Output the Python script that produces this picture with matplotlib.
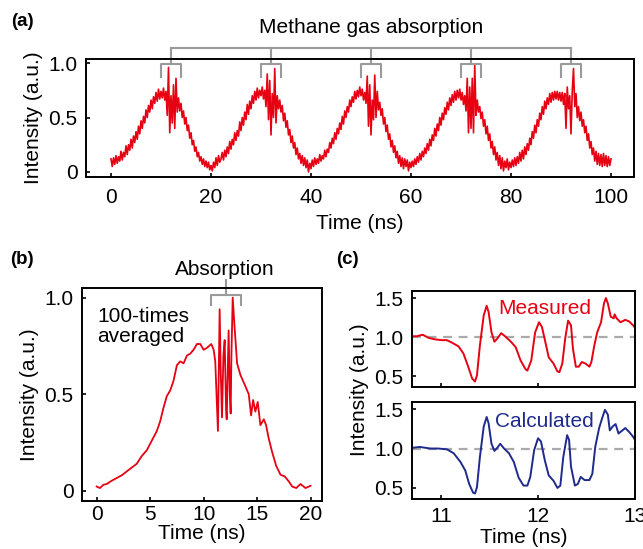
import numpy as np
import matplotlib
matplotlib.use("Agg")
import matplotlib.pyplot as plt

plt.rcParams['font.family'] = ['Liberation Sans', 'DejaVu Sans']

# ---------------- data ----------------
# (a) single-shot trace, 0.25 ns steps from 0 to 100 ns
time_a = np.arange(401) * 0.25
intensity_a = [
    # 0 - 20 ns
    0.12, 0.05, 0.13, 0.07, 0.15, 0.08, 0.14, 0.10, 0.19, 0.11, 0.18, 0.14, 0.24, 0.16, 0.25, 0.20,
    0.30, 0.22, 0.33, 0.27, 0.37, 0.30, 0.42, 0.35, 0.47, 0.40, 0.51, 0.45, 0.57, 0.50, 0.61, 0.55,
    0.66, 0.58, 0.69, 0.63, 0.73, 0.65, 0.76, 0.67, 0.74, 0.68, 0.77, 0.66, 0.74, 0.52, 0.96, 0.36,
    0.70, 0.45, 0.80, 0.40, 0.86, 0.55, 0.68, 0.56, 0.63, 0.50, 0.56, 0.44, 0.50, 0.38, 0.43, 0.31,
    0.36, 0.25, 0.29, 0.19, 0.23, 0.14, 0.18, 0.10, 0.14, 0.07, 0.12, 0.05, 0.10, 0.04, 0.09, 0.02,
    # 20 - 40 ns
    0.06, 0.01, 0.09, 0.04, 0.13, 0.06, 0.15, 0.09, 0.12, 0.18, 0.11, 0.20, 0.14, 0.23, 0.17, 0.28,
    0.21, 0.30, 0.25, 0.36, 0.29, 0.38, 0.33, 0.46, 0.38, 0.50, 0.43, 0.55, 0.48, 0.62, 0.53, 0.65,
    0.58, 0.70, 0.63, 0.74, 0.66, 0.77, 0.68, 0.75, 0.70, 0.78, 0.67, 0.75, 0.60, 0.90, 0.48, 0.84,
    0.34, 0.72, 0.50, 0.95, 0.45, 0.70, 0.58, 0.66, 0.55, 0.61, 0.47, 0.54, 0.41, 0.47, 0.34, 0.39,
    0.27, 0.33, 0.22, 0.27, 0.16, 0.22, 0.12, 0.17, 0.08, 0.15, 0.06, 0.13, 0.04, 0.11, 0.00, 0.08,
    # 40 - 60 ns
    0.03, 0.11, 0.05, 0.13, 0.07, 0.12, 0.08, 0.16, 0.10, 0.15, 0.12, 0.20, 0.14, 0.21, 0.18, 0.27,
    0.22, 0.31, 0.26, 0.36, 0.30, 0.40, 0.35, 0.45, 0.39, 0.51, 0.44, 0.56, 0.50, 0.60, 0.55, 0.66,
    0.60, 0.69, 0.64, 0.74, 0.67, 0.75, 0.69, 0.78, 0.70, 0.76, 0.66, 0.73, 0.63, 0.88, 0.42, 0.80,
    0.34, 0.66, 0.48, 0.89, 0.50, 0.74, 0.57, 0.64, 0.52, 0.58, 0.44, 0.50, 0.37, 0.43, 0.30, 0.35,
    0.23, 0.29, 0.18, 0.24, 0.13, 0.19, 0.08, 0.15, 0.05, 0.13, 0.03, 0.12, 0.05, 0.11, 0.01, 0.09,
    # 60 - 80 ns
    0.04, 0.10, 0.05, 0.12, 0.07, 0.14, 0.09, 0.17, 0.11, 0.19, 0.14, 0.22, 0.17, 0.26, 0.20, 0.30,
    0.24, 0.34, 0.29, 0.40, 0.33, 0.44, 0.38, 0.50, 0.43, 0.54, 0.48, 0.59, 0.53, 0.64, 0.57, 0.68,
    0.61, 0.71, 0.64, 0.74, 0.66, 0.75, 0.68, 0.76, 0.66, 0.73, 0.62, 0.70, 0.56, 0.86, 0.36, 0.78,
    0.40, 0.86, 0.36, 0.98, 0.52, 0.66, 0.55, 0.60, 0.49, 0.55, 0.42, 0.48, 0.35, 0.42, 0.29, 0.35,
    0.22, 0.28, 0.16, 0.23, 0.11, 0.18, 0.06, 0.15, 0.03, 0.13, 0.01, 0.10, 0.04, 0.12, 0.02, 0.09,
    # 80 - 100 ns
    0.04, 0.11, 0.05, 0.13, 0.06, 0.14, 0.08, 0.18, 0.10, 0.20, 0.12, 0.23, 0.16, 0.26, 0.20, 0.31,
    0.25, 0.37, 0.31, 0.43, 0.36, 0.48, 0.42, 0.54, 0.48, 0.60, 0.53, 0.65, 0.58, 0.68, 0.62, 0.72,
    0.64, 0.73, 0.66, 0.74, 0.67, 0.74, 0.66, 0.73, 0.65, 0.73, 0.62, 0.72, 0.40, 0.78, 0.58, 0.70,
    0.35, 0.74, 0.95, 0.60, 0.72, 0.50, 0.60, 0.47, 0.55, 0.42, 0.48, 0.36, 0.42, 0.29, 0.35, 0.22,
    0.28, 0.16, 0.22, 0.10, 0.19, 0.07, 0.17, 0.06, 0.16, 0.05, 0.17, 0.06, 0.15, 0.05, 0.14, 0.06,
    0.12,
]
absorption_centers_a = [12, 32, 52, 72, 92]

# (b) 100-times averaged single period
time_b = [0.0, 0.31, 0.63, 0.94, 1.41, 1.88, 2.34, 2.81, 3.28, 3.75, 4.22, 4.69, 5.16, 5.63,
          5.94, 6.25, 6.56, 6.88, 7.19, 7.5, 7.81, 8.13, 8.44, 8.75, 9.06, 9.38, 9.69, 10.0,
          10.31, 10.72, 10.94, 11.09, 11.34, 11.5, 11.6, 11.72, 11.85, 11.97, 12.1, 12.16,
          12.34, 12.45, 12.53, 12.6, 12.72, 12.88, 13.13, 13.44, 13.84, 14.22, 14.44, 14.63,
          14.84, 15.06, 15.31, 15.63, 15.84, 16.09, 16.41, 16.78, 17.19, 17.59, 17.97, 18.28,
          18.66, 19.06, 19.53, 20.0]
intensity_b = [0.022, 0.014, 0.031, 0.035, 0.052, 0.066, 0.080, 0.10, 0.12, 0.14, 0.18, 0.21,
               0.26, 0.31, 0.36, 0.43, 0.49, 0.52, 0.57, 0.65, 0.67, 0.66, 0.70, 0.71, 0.73,
               0.76, 0.76, 0.73, 0.74, 0.76, 0.73, 0.67, 0.31, 0.94, 0.62, 0.38, 0.70, 0.78,
               0.42, 0.37, 0.83, 0.50, 0.40, 0.70, 1.0, 0.86, 0.66, 0.60, 0.55, 0.50, 0.39,
               0.47, 0.41, 0.46, 0.34, 0.37, 0.34, 0.27, 0.20, 0.13, 0.083, 0.074, 0.048,
               0.022, 0.014, 0.035, 0.014, 0.026]

# (c) zoom on absorption: measured and calculated
time_meas = [10.70, 10.75, 10.81, 10.87, 10.94, 11.01, 11.06, 11.11, 11.18, 11.23, 11.28,
             11.32, 11.35, 11.37, 11.40, 11.44, 11.47, 11.49, 11.52, 11.55, 11.58, 11.62,
             11.66, 11.72, 11.77, 11.82, 11.87, 11.89, 11.93, 11.97, 12.01, 12.04, 12.08,
             12.11, 12.16, 12.20, 12.22, 12.25, 12.28, 12.31, 12.34, 12.36, 12.39, 12.42,
             12.45, 12.49, 12.53, 12.55, 12.58, 12.61, 12.65, 12.68, 12.70, 12.72, 12.75,
             12.78, 12.79, 12.81, 12.85, 12.90, 12.94, 12.98, 13.02]
intensity_meas = [1.01, 1.01, 1.03, 0.99, 0.97, 0.96, 0.96, 0.93, 0.88, 0.79, 0.62,
                  0.47, 0.43, 0.51, 0.89, 1.28, 1.40, 1.32, 1.06, 0.94, 0.98, 1.05,
                  1.01, 0.94, 0.87, 0.70, 0.59, 0.57, 0.70, 1.06, 1.19, 1.13, 0.91,
                  0.74, 0.66, 0.56, 0.55, 0.66, 0.98, 1.21, 1.15, 0.85, 0.62, 0.62,
                  0.68, 0.66, 0.62, 0.68, 0.89, 1.06, 1.19, 1.43, 1.50, 1.43, 1.26,
                  1.24, 1.29, 1.24, 1.19, 1.22, 1.20, 1.15, 1.09]

time_calc = [10.71, 10.78, 10.89, 10.97, 11.06, 11.13, 11.20, 11.25, 11.29, 11.33, 11.35,
             11.37, 11.40, 11.44, 11.47, 11.49, 11.52, 11.55, 11.58, 11.61, 11.65, 11.70,
             11.75, 11.80, 11.85, 11.89, 11.92, 11.96, 12.00, 12.03, 12.07, 12.11, 12.16,
             12.20, 12.23, 12.26, 12.30, 12.32, 12.34, 12.38, 12.41, 12.44, 12.48, 12.53,
             12.56, 12.59, 12.63, 12.66, 12.69, 12.72, 12.74, 12.77, 12.80, 12.83, 12.85,
             12.90, 12.94, 12.98, 13.01]
intensity_calc = [1.01, 1.02, 1.00, 1.00, 0.99, 0.94, 0.83, 0.72, 0.55, 0.44, 0.43,
                  0.51, 0.89, 1.28, 1.40, 1.32, 1.06, 0.97, 1.01, 1.06, 1.00, 0.94,
                  0.83, 0.63, 0.53, 0.53, 0.64, 0.98, 1.13, 1.09, 0.85, 0.66, 0.59,
                  0.50, 0.53, 0.89, 1.17, 1.11, 0.77, 0.53, 0.55, 0.64, 0.60, 0.60,
                  0.68, 1.02, 1.26, 1.38, 1.49, 1.43, 1.23, 1.28, 1.31, 1.19, 1.21,
                  1.26, 1.21, 1.15, 1.09]

red = '#e60012'
navy = '#1f2a8c'
gray = '#9a9a9a'
fs = 15

W, H = 643, 549


def px_axes(fig, x0, y0, x1, y1):
    return fig.add_axes([x0 / W, 1 - y1 / H, (x1 - x0) / W, (y1 - y0) / H])


def style(ax, xpad=6):
    for s in ax.spines.values():
        s.set_linewidth(1.4)
    ax.tick_params(direction='in', length=3, width=1.2, labelsize=fs, pad=6)
    ax.tick_params(axis='x', pad=xpad)


fig = plt.figure(figsize=(W / 100, H / 100), dpi=100)

# ---------------- (a) ----------------
ax_a = px_axes(fig, 86, 59, 634, 177)
ax_a.plot(time_a, intensity_a, color=red, lw=1.2)
ax_a.set_xlim(-5, 104.6)
ax_a.set_ylim(-0.046, 1.037)
ax_a.set_xticks([0, 20, 40, 60, 80, 100])
ax_a.set_yticks([0, 0.5, 1.0])
ax_a.set_yticklabels(['0', '0.5', '1.0'])
ax_a.set_xlabel('Time (ns)', fontsize=fs, labelpad=5)
ax_a.set_ylabel('Intensity (a.u.)', fontsize=fs, labelpad=4)
style(ax_a, xpad=8)

ax_a.plot([absorption_centers_a[0], absorption_centers_a[-1]], [1.138, 1.138],
          color=gray, lw=1.5, clip_on=False)
for c in absorption_centers_a:
    ax_a.plot([c, c], [1.138, 0.99], color=gray, lw=1.5, clip_on=False)
    ax_a.plot([c - 2, c - 2, c + 2, c + 2], [0.87, 0.99, 0.99, 0.87],
              color=gray, lw=1.5, clip_on=False)
ax_a.text(52, 1.33, 'Methane gas absorption', ha='center', va='center',
          fontsize=fs, clip_on=False)

# ---------------- (b) ----------------
ax_b = px_axes(fig, 82, 288, 322, 501)
ax_b.plot(time_b, intensity_b, color=red, lw=1.3)
ax_b.set_xlim(-1.37, 21.07)
ax_b.set_ylim(-0.053, 1.05)
ax_b.set_xticks([0, 5, 10, 15, 20])
ax_b.set_yticks([0, 0.5, 1.0])
ax_b.set_yticklabels(['0', '0.5', '1.0'])
ax_b.set_xlabel('Time (ns)', fontsize=fs, labelpad=0)
ax_b.set_ylabel('Intensity (a.u.)', fontsize=fs, labelpad=4)
style(ax_b, xpad=3)
ax_b.plot([12.05, 12.05], [1.013, 1.09], color=gray, lw=1.5, clip_on=False)
ax_b.plot([10.7, 10.7, 13.45, 13.45], [0.96, 1.013, 1.013, 0.96],
          color=gray, lw=1.5, clip_on=False)
ax_b.text(12.0, 1.148, 'Absorption', ha='center', va='center', fontsize=fs)
ax_b.text(0.03, 0.85, '100-times\naveraged', ha='left', va='center', fontsize=fs,
          linespacing=1.05)

# ---------------- (c) ----------------
ax_c1 = px_axes(fig, 412, 291, 635, 387)
ax_c2 = px_axes(fig, 412, 402, 635, 499)
for ax, t, v, col, lab, ly in [(ax_c1, time_meas, intensity_meas, red, 'Measured', 1.37),
                               (ax_c2, time_calc, intensity_calc, navy, 'Calculated', 1.34)]:
    ax.axhline(1.0, color='#aaaaaa', lw=1.6, ls=(0, (4, 3)))
    ax.plot(t, v, color=col, lw=1.4)
    ax.set_xlim(10.7, 13.0)
    ax.set_ylim(0.36, 1.59)
    ax.set_xticks([11, 12, 13])
    ax.set_yticks([0.5, 1.0, 1.5])
    ax.text(12.07, ly, lab, color=col, ha='center', va='center', fontsize=fs)
    style(ax)
ax_c1.set_xticklabels([])
ax_c2.set_xlabel('Time (ns)', fontsize=fs, labelpad=1)
fig.text(359 / W, 1 - 390 / H, 'Intensity (a.u.)', rotation=90, ha='center', va='center',
         fontsize=fs)

# panel letters
fig.text(22 / W, 1 - 22 / H, '(a)', fontsize=13.5, fontweight='bold', ha='center', va='center')
fig.text(22 / W, 1 - 259 / H, '(b)', fontsize=13.5, fontweight='bold', ha='center', va='center')
fig.text(347 / W, 1 - 260 / H, '(c)', fontsize=13.5, fontweight='bold', ha='center', va='center')

fig.savefig('out.png', dpi=100)
